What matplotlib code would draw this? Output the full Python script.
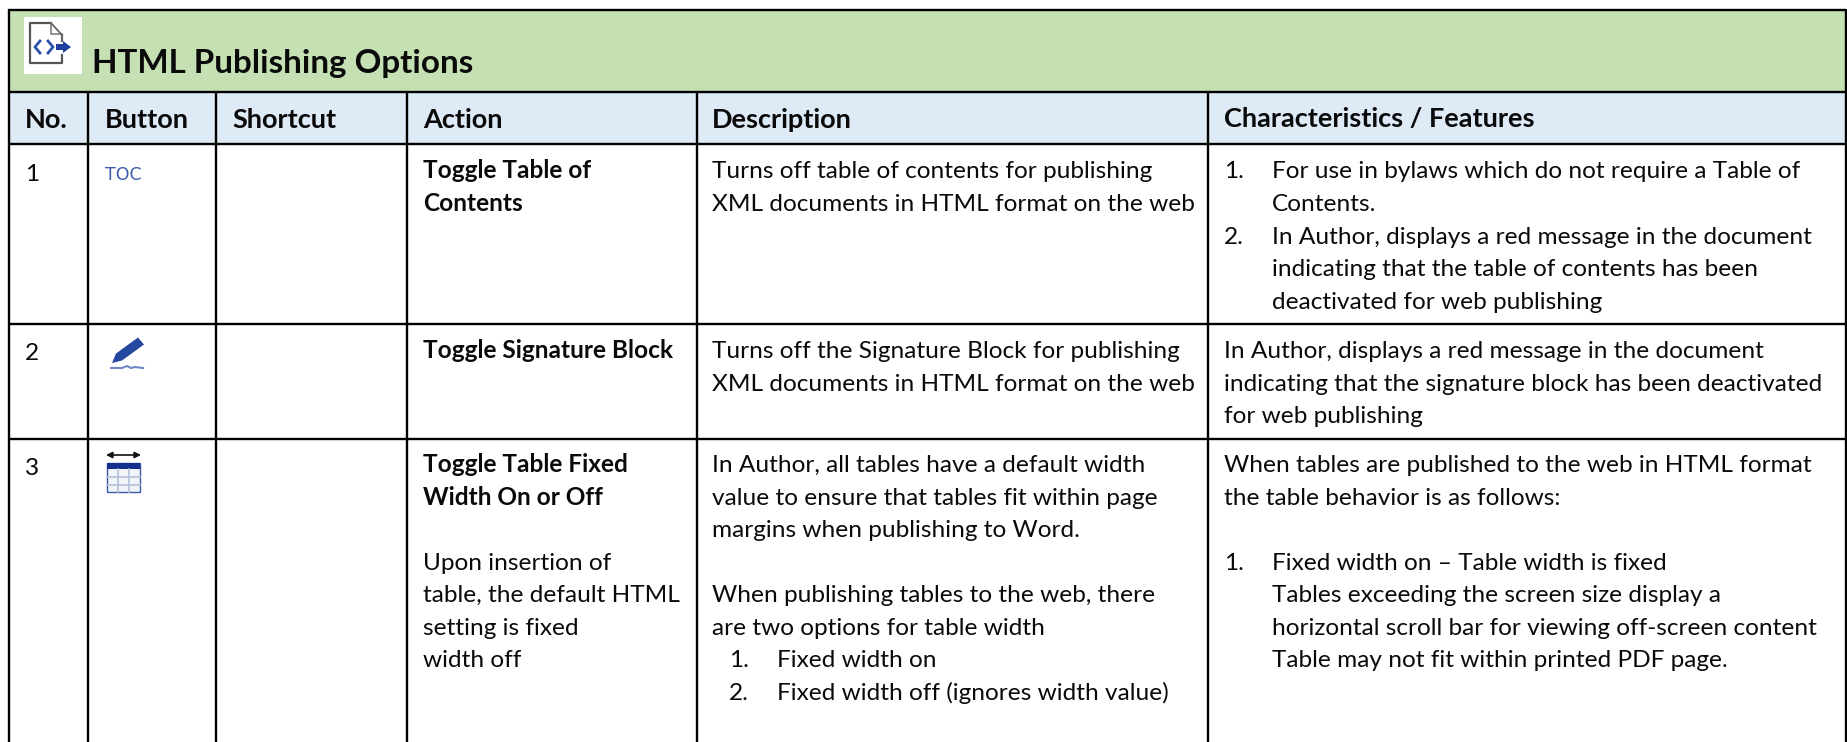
import matplotlib
matplotlib.use('Agg')
import matplotlib.pyplot as plt
from matplotlib.patches import Rectangle, Polygon

plt.rcParams['font.family'] = ['Lato', 'DejaVu Sans']

title = 'HTML Publishing Options'
headers = ['No.', 'Button', 'Shortcut', 'Action', 'Description', 'Characteristics / Features']
numbers = ['1', '2', '3']
button_text = 'TOC'

action_bold = [['Toggle Table of', 'Contents'],
               ['Toggle Signature Block'],
               ['Toggle Table Fixed', 'Width On or Off']]
action_extra = ['Upon insertion of', 'table, the default HTML', 'setting is fixed', 'width off']

desc_1 = ['Turns off table of contents for publishing', 'XML documents in HTML format on the web']
desc_2 = ['Turns off the Signature Block for publishing', 'XML documents in HTML format on the web']
desc_3 = ['In Author, all tables have a default width', 'value to ensure that tables fit within page',
          'margins when publishing to Word.', '',
          'When publishing tables to the web, there', 'are two options for table width']
desc_3_list = ['Fixed width on', 'Fixed width off (ignores width value)']

feat_1 = [('1.', 'For use in bylaws which do not require a Table of'), ('', 'Contents.'),
          ('2.', 'In Author, displays a red message in the document'),
          ('', 'indicating that the table of contents has been'),
          ('', 'deactivated for web publishing')]
feat_2 = ['In Author, displays a red message in the document',
          'indicating that the signature block has been deactivated', 'for web publishing']
feat_3 = ['When tables are published to the web in HTML format', 'the table behavior is as follows:']
feat_3_list = [('1.', 'Fixed width on \u2013 Table width is fixed'),
               ('', 'Tables exceeding the screen size display a'),
               ('', 'horizontal scroll bar for viewing off-screen content'),
               ('', 'Table may not fit within printed PDF page.')]

# layout, in pixels of the 1847x742 picture
col_edges = [9, 88, 216, 407, 697, 1208, 1845]
row_edges = [92, 144, 324, 439]
text_x = [25, 105, 232, 423, 712, 1224]
list_x = 1272
line_h = 32.55
size = 17.6
ink = '#0a0a0a'

fig = plt.figure(figsize=(18.47, 7.42), dpi=100)
ax = fig.add_axes([0, 0, 1, 1])
ax.set_xlim(0, 1847)
ax.set_ylim(742, 0)
ax.axis('off')

ax.add_patch(Rectangle((9, 9), 1836, 83, fc='#C5E0B3', ec='none'))
ax.add_patch(Rectangle((9, 92), 1836, 52, fc='#DEEAF6', ec='none'))

lw = 1.7
for y in [9.5] + row_edges:
    ax.plot([8, 1846], [y, y], color='black', lw=lw, solid_capstyle='butt')
for x in col_edges[1:-1]:
    ax.plot([x, x], [92, 742], color='black', lw=lw, solid_capstyle='butt')
ax.plot([8.5, 8.5], [9, 742], color='black', lw=lw, solid_capstyle='butt')
ax.plot([1845.5, 1845.5], [9, 742], color='black', lw=lw, solid_capstyle='butt')


def put(x, y, s, bold=False, fs=size, color=ink):
    ax.text(x, y, s, fontsize=fs, fontweight='bold' if bold else 'normal',
            color=color, va='baseline', ha='left')


# title row with its icon
ax.add_patch(Rectangle((24, 17), 58, 57, fc='white', ec='none'))
ax.plot([62, 62, 30, 30, 51], [55, 63, 63, 23, 23], color='#555555', lw=1.6)
ax.plot([62, 62], [35, 41], color='#666666', lw=1.6)
ax.plot([51, 51, 62], [23, 34, 34], color='#888888', lw=1.3)
ax.plot([51, 62], [23, 35], color='#666666', lw=1.3)
ax.plot([40, 35, 40], [41, 47, 53], color='#2a52a8', lw=2)
ax.plot([48, 53, 48], [41, 47, 53], color='#2a52a8', lw=2)
ax.add_patch(Polygon([(56, 44), (63, 44), (63, 41), (71, 47), (63, 53), (63, 50), (56, 50)],
                     fc='#1f3f9e', ec='none'))
put(92, 72.5, title, bold=True, fs=23.9)

for x, h in zip(text_x, headers):
    put(x, 127.5, h, bold=True, fs=19.5)

number_base = [181, 360, 475]
base = [178.5, 358, 472]
for n, b in zip(numbers, number_base):
    put(text_x[0], b, n)

# button column icons
ax.text(text_x[1], 180, button_text, fontsize=12.5, family='DejaVu Sans', color='#3a5cab',
        va='baseline', ha='left')

ax.add_patch(Polygon([(112, 363), (116, 353.5), (138, 337.5), (144, 344.5), (122, 360.5)],
                     fc='#2448a0', ec='none'))
ax.plot([111, 122, 127, 131, 135, 143], [368, 368, 366, 368, 367, 368], color='#6f88c4', lw=1.5)

ax.annotate('', xy=(106, 455), xytext=(141, 455),
            arrowprops=dict(arrowstyle='<|-|>', color='#111111', lw=1.2, mutation_scale=9, shrinkA=0, shrinkB=0))
ax.add_patch(Rectangle((107, 463), 33, 29, fc='#f2f4fa', ec='#3a5aa8', lw=1))
ax.add_patch(Rectangle((107, 463), 33, 6, fc='#12308c', ec='none'))
for gx in [118, 129]:
    ax.plot([gx, gx], [469, 492], color='#b5c0dc', lw=1.2)
for gy in [477, 485]:
    ax.plot([107, 140], [gy, gy], color='#b5c0dc', lw=1.2)

# action column
for lines, b in zip(action_bold, base):
    for i, s in enumerate(lines):
        put(text_x[3], b + i * line_h, s, bold=True)
for i, s in enumerate(action_extra):
    put(text_x[3], base[2] + (3 + i) * line_h, s)

# description column
for lines, b in zip([desc_1, desc_2, desc_3], base):
    for i, s in enumerate(lines):
        put(text_x[4], b + i * line_h, s)
for i, s in enumerate(desc_3_list):
    put(729, base[2] + (6 + i) * line_h, '%d.' % (i + 1))
    put(777, base[2] + (6 + i) * line_h, s)

# features column
for i, (num, s) in enumerate(feat_1):
    put(text_x[5], base[0] + i * line_h, num)
    put(list_x, base[0] + i * line_h, s)
for i, s in enumerate(feat_2):
    put(text_x[5], base[1] + i * line_h, s)
for i, s in enumerate(feat_3):
    put(text_x[5], base[2] + i * line_h, s)
for i, (num, s) in enumerate(feat_3_list):
    put(text_x[5], base[2] + (3 + i) * line_h, num)
    put(list_x, base[2] + (3 + i) * line_h, s)

fig.savefig('out.png', dpi=100)
